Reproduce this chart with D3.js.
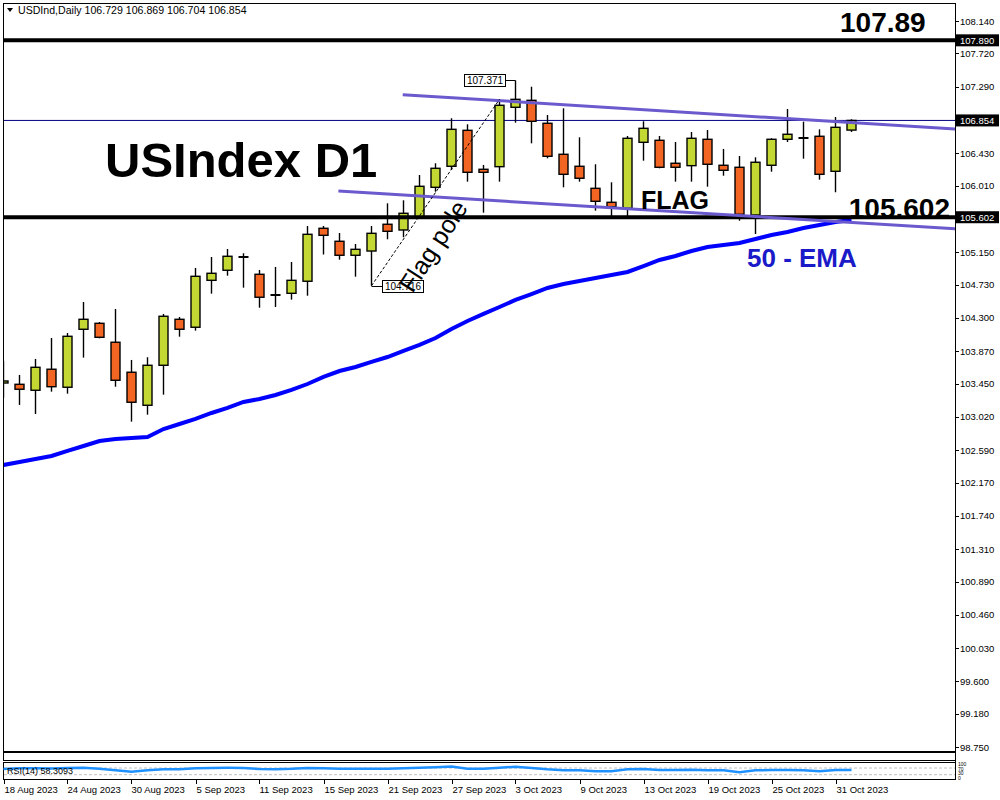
<!DOCTYPE html>
<html><head><meta charset="utf-8">
<script src="https://cdn.jsdelivr.net/npm/d3@7"></script>
<style>body{margin:0;background:#fff}svg{display:block}</style>
</head><body><svg id="c" width="1000" height="800"></svg>
<script>
// ---------- DATA ----------
const dates = ["18 Aug 2023","21 Aug 2023","22 Aug 2023","23 Aug 2023","24 Aug 2023","25 Aug 2023","28 Aug 2023","29 Aug 2023","30 Aug 2023","31 Aug 2023",
"1 Sep 2023","4 Sep 2023","5 Sep 2023","6 Sep 2023","7 Sep 2023","8 Sep 2023","11 Sep 2023","12 Sep 2023","13 Sep 2023","14 Sep 2023","15 Sep 2023",
"18 Sep 2023","19 Sep 2023","20 Sep 2023","21 Sep 2023","22 Sep 2023","25 Sep 2023","26 Sep 2023","27 Sep 2023","28 Sep 2023","29 Sep 2023",
"2 Oct 2023","3 Oct 2023","4 Oct 2023","5 Oct 2023","6 Oct 2023","9 Oct 2023","10 Oct 2023","11 Oct 2023","12 Oct 2023","13 Oct 2023",
"16 Oct 2023","17 Oct 2023","18 Oct 2023","19 Oct 2023","20 Oct 2023","23 Oct 2023","24 Oct 2023","25 Oct 2023","26 Oct 2023","27 Oct 2023",
"30 Oct 2023","31 Oct 2023","1 Nov 2023"];
const open = [103.458,103.441,103.364,103.636,103.403,104.153,104.230,103.985,103.597,103.170,103.687,104.282,104.179,104.786,104.916,105.088,104.864,104.596,104.618,104.774,105.459,105.291,105.110,105.165,105.511,105.437,105.609,105.989,106.261,106.726,106.222,106.256,107.024,107.114,106.817,106.416,106.261,105.976,105.795,105.718,106.571,106.597,106.300,106.269,106.610,106.274,106.248,105.631,106.274,106.610,106.627,106.649,106.196,106.729];
const high = [103.747,103.562,103.769,104.040,104.105,104.506,104.247,104.415,103.756,103.791,104.351,104.312,104.946,105.088,105.191,105.136,104.920,104.959,105.023,105.489,105.489,105.398,105.256,105.489,105.782,105.821,106.148,106.300,106.882,106.804,106.278,107.127,107.371,107.290,106.924,107.011,106.636,106.287,106.054,106.653,106.843,106.653,106.575,106.704,106.730,106.485,106.394,106.377,106.623,107.002,106.838,106.739,106.898,106.869];
const low = [103.268,103.174,103.057,103.346,103.320,103.786,104.036,103.410,102.958,103.048,103.307,104.057,104.135,104.613,104.846,104.691,104.432,104.441,104.536,104.587,105.120,105.053,104.833,104.716,105.317,105.343,105.579,105.932,106.213,106.062,105.661,106.062,106.825,106.558,106.364,105.989,106.062,105.687,105.609,105.605,106.333,106.235,106.062,106.062,105.997,106.139,105.557,105.385,106.191,106.575,106.359,106.088,105.925,106.704];
const close = [103.484,103.377,103.661,103.410,104.062,104.282,104.049,103.493,103.209,103.687,104.321,104.153,104.838,104.877,105.097,105.088,104.567,104.596,104.786,105.381,105.368,105.110,105.187,105.394,105.420,105.653,106.002,106.235,106.739,106.183,106.183,107.050,107.127,106.843,106.390,106.157,106.106,105.808,105.738,106.623,106.752,106.248,106.248,106.623,106.287,106.209,105.640,106.313,106.610,106.675,106.627,106.157,106.765,106.854];
const ema50 = [102.398,102.437,102.475,102.514,102.579,102.643,102.708,102.734,102.747,102.760,102.863,102.928,102.993,103.070,103.135,103.213,103.251,103.303,103.368,103.445,103.536,103.613,103.665,103.730,103.794,103.872,103.950,104.040,104.157,104.260,104.351,104.441,104.532,104.609,104.687,104.739,104.777,104.816,104.855,104.894,104.971,105.049,105.101,105.165,105.217,105.243,105.269,105.321,105.372,105.411,105.463,105.502,105.540,105.566];
const rsi14 = [64,68,69,67,70,71,66,57,48,56,63,62,69,70,71,70,64,63,65,70,69,65,65,66,65,68,71,75,79,66,65,72,78,70,62,57,56,51,50,62,64,58,58,60,57,57,45,56,58,58,57,51,58,58.3093];
const priceTicks = [108.140,107.720,107.290,106.430,106.010,105.150,104.730,104.300,103.870,103.450,103.020,102.590,102.170,101.740,101.310,100.890,100.460,100.030,99.600,99.180,98.750];
const markedLevels = [107.890,106.854,105.602];
const dateTickIdx = [0,4,8,12,16,20,24,28,32,36,40,44,48,52];
const rsiLevels = [70,30];
const rsiTicks = [100,70,30,0];
const flagUpper = [[24.95,107.187],[59.5,106.742]];
const flagLower = [[20.93,105.941],[59.5,105.453]];
const poleFrom = [23,104.716], poleTo = [31,107.127];
const headerText = "USDInd,Daily  106.729 106.869 106.704 106.854";

// ---------- LAYOUT ----------
const svg = d3.select("#c");
const L = 4, R = 955, T = 4, B = 751;
const x = d3.scaleLinear().domain([0,53]).range([3.5,851.5]);
const y = d3.scaleLinear().domain([98.75,108.14]).range([747,21]);
const yr = d3.scaleLinear().domain([0,100]).range([779.7,763]);
const F = "'Liberation Sans', Arial, sans-serif";

svg.append("rect").attr("width",1000).attr("height",800).attr("fill","#fff");
svg.append("defs").append("clipPath").attr("id","plot").append("rect")
  .attr("x",L).attr("y",T).attr("width",R-L).attr("height",B-T);

// panels
svg.append("rect").attr("x",L-0.5).attr("y",T-0.5).attr("width",R-L+1).attr("height",B-T+1)
  .attr("fill","none").attr("stroke","#000").attr("stroke-width",1);
svg.append("rect").attr("x",L-0.5).attr("y",752.5).attr("width",R-L+1).attr("height",8)
  .attr("fill","none").attr("stroke","#000").attr("stroke-width",1);
svg.append("rect").attr("x",L-0.5).attr("y",762.5).attr("width",R-L+1).attr("height",17)
  .attr("fill","none").attr("stroke","#000").attr("stroke-width",1);

const g = svg.append("g").attr("clip-path","url(#plot)");

// header
svg.append("path").attr("d","M7,8 L13,8 L10,12 Z").attr("fill","#000");
svg.append("text").attr("x",18).attr("y",14).attr("font-family",F).attr("font-size",10.6)
  .attr("fill","#000").text(headerText);

// bid line
g.append("line").attr("x1",L).attr("x2",R).attr("y1",y(106.854)).attr("y2",y(106.854))
  .attr("stroke","#000080").attr("stroke-width",1);

// candles
const idx = d3.range(open.length);
const cg = g.append("g");
cg.selectAll("line.w").data(idx).join("line").attr("class","w")
  .attr("x1",i=>x(i)).attr("x2",i=>x(i)).attr("y1",i=>y(high[i])).attr("y2",i=>y(low[i]))
  .attr("stroke","#000").attr("stroke-width",1.4);
cg.selectAll("rect.b").data(idx.filter(i=>open[i]!==close[i])).join("rect").attr("class","b")
  .attr("x",i=>x(i)-4.5).attr("width",9)
  .attr("y",i=>y(Math.max(open[i],close[i])))
  .attr("height",i=>Math.max(1,Math.abs(y(open[i])-y(close[i]))))
  .attr("fill",i=>close[i]>open[i]?"#c4d834":"#f26522")
  .attr("stroke","#000").attr("stroke-width",1.4);
cg.selectAll("line.d").data(idx.filter(i=>open[i]===close[i])).join("line").attr("class","d")
  .attr("x1",i=>x(i)-5).attr("x2",i=>x(i)+5).attr("y1",i=>y(open[i])).attr("y2",i=>y(open[i]))
  .attr("stroke","#000").attr("stroke-width",2);

// EMA
g.append("path").datum(idx).attr("fill","none").attr("stroke","#0000ff").attr("stroke-width",4)
  .attr("d",d3.line().x(i=>x(i)).y(i=>y(ema50[i])));

// horizontal levels
[107.890,105.602].forEach(v=>{
  g.append("line").attr("x1",L).attr("x2",R).attr("y1",y(v)).attr("y2",y(v))
    .attr("stroke","#000").attr("stroke-width",4);
});

// flag channel
[flagUpper,flagLower].forEach(p=>{
  g.append("line").attr("x1",x(p[0][0])).attr("y1",y(p[0][1])).attr("x2",x(p[1][0])).attr("y2",y(p[1][1]))
    .attr("stroke","#6a5acd").attr("stroke-width",3);
});

// flag pole
g.append("line").attr("x1",x(poleFrom[0])).attr("y1",y(poleFrom[1])).attr("x2",x(poleTo[0])).attr("y2",y(poleTo[1]))
  .attr("stroke","#000").attr("stroke-width",1).attr("stroke-dasharray","3,2");

// price labels
function priceLabel(i, v, side){
  const yy = Math.round(y(v))+0.5, w = 41, h = 12;
  const bx = side==="left" ? x(i)-10-w : x(i)+11;
  g.append("line").attr("x1",x(i)).attr("x2",side==="left"?bx+w:bx).attr("y1",yy).attr("y2",yy)
    .attr("stroke","#000").attr("stroke-width",1);
  g.append("rect").attr("x",bx).attr("y",yy-h/2).attr("width",w).attr("height",h)
    .attr("fill","#fff").attr("stroke","#000").attr("stroke-width",1);
  g.append("text").attr("x",bx+w/2).attr("y",yy+3.5).attr("text-anchor","middle")
    .attr("font-family",F).attr("font-size",10).attr("fill","#000").text(v.toFixed(3));
}
priceLabel(32, high[32], "left");
priceLabel(23, low[23], "right");

// annotations
g.append("text").attr("x",105).attr("y",177).attr("font-family",F).attr("font-weight","bold")
  .attr("font-size",49).attr("fill","#000").text("USIndex D1");
g.append("text").attr("transform",`translate(433,246) rotate(-57)`).attr("text-anchor","middle")
  .attr("dominant-baseline","central").attr("font-family",F).attr("font-size",25).attr("fill","#000").text("Flag pole");
g.append("text").attr("x",641).attr("y",208.5).attr("font-family",F).attr("font-weight","bold")
  .attr("font-size",25).attr("fill","#000").text("FLAG");
g.append("text").attr("x",950).attr("y",y(105.602)+1).attr("text-anchor","end").attr("font-family",F).attr("font-weight","bold")
  .attr("font-size",28).attr("fill","#000").text("105.602");
g.append("text").attr("x",840).attr("y",32).attr("font-family",F).attr("font-weight","bold")
  .attr("font-size",28).attr("fill","#000").text("107.89");
g.append("text").attr("x",747).attr("y",267).attr("font-family",F).attr("font-weight","bold")
  .attr("font-size",26).attr("fill","#1a1ac8").text("50 - EMA");

// right axis
svg.append("line").attr("x1",R+0.5).attr("x2",R+0.5).attr("y1",T).attr("y2",780).attr("stroke","#000");
const ax = svg.append("g");
priceTicks.forEach(v=>{
  ax.append("line").attr("x1",R).attr("x2",R+4).attr("y1",Math.round(y(v))+0.5).attr("y2",Math.round(y(v))+0.5).attr("stroke","#000");
  ax.append("text").attr("x",960).attr("y",y(v)+3.5).attr("font-family",F).attr("font-size",9.5).attr("fill","#000")
    .text(v.toFixed(3));
});
markedLevels.forEach(v=>{
  ax.append("rect").attr("x",R+1).attr("y",y(v)-6).attr("width",43).attr("height",12).attr("fill","#000");
  ax.append("text").attr("x",960).attr("y",y(v)+3.5).attr("font-family",F).attr("font-size",9.5).attr("fill","#fff")
    .text(v.toFixed(3));
});

// RSI panel
const rg = svg.append("g");
rsiLevels.forEach(v=>{
  rg.append("line").attr("x1",L).attr("x2",R).attr("y1",yr(v)).attr("y2",yr(v))
    .attr("stroke","#c0c0c0").attr("stroke-dasharray","3,2").attr("stroke-width",1);
});
rg.append("path").datum(idx).attr("fill","none").attr("stroke","#1e90ff").attr("stroke-width",2.5)
  .attr("d",d3.line().x(i=>x(i)).y(i=>yr(rsi14[i])));
rg.append("text").attr("x",7).attr("y",774).attr("font-family",F).attr("font-size",9).attr("fill","#000")
  .text("RSI(14) "+rsi14[rsi14.length-1].toFixed(4));
// stacked small labels so they do not collide
const rsiLabY = [766, 770.6, 775.2, 779.8];
rsiTicks.forEach((v,k)=>{
  rg.append("text").attr("x",958).attr("y",rsiLabY[k]).attr("font-family",F).attr("font-size",5)
    .attr("fill","#000").text(v);
});

// date axis
const dg = svg.append("g");
dateTickIdx.forEach(i=>{
  const xx = Math.round(x(i))+0.5;
  dg.append("line").attr("x1",xx).attr("x2",xx).attr("y1",780).attr("y2",784).attr("stroke","#000");
  dg.append("text").attr("x",xx).attr("y",793).attr("font-family",F).attr("font-size",9.5).attr("fill","#000").text(dates[i]);
});
</script></body></html>
